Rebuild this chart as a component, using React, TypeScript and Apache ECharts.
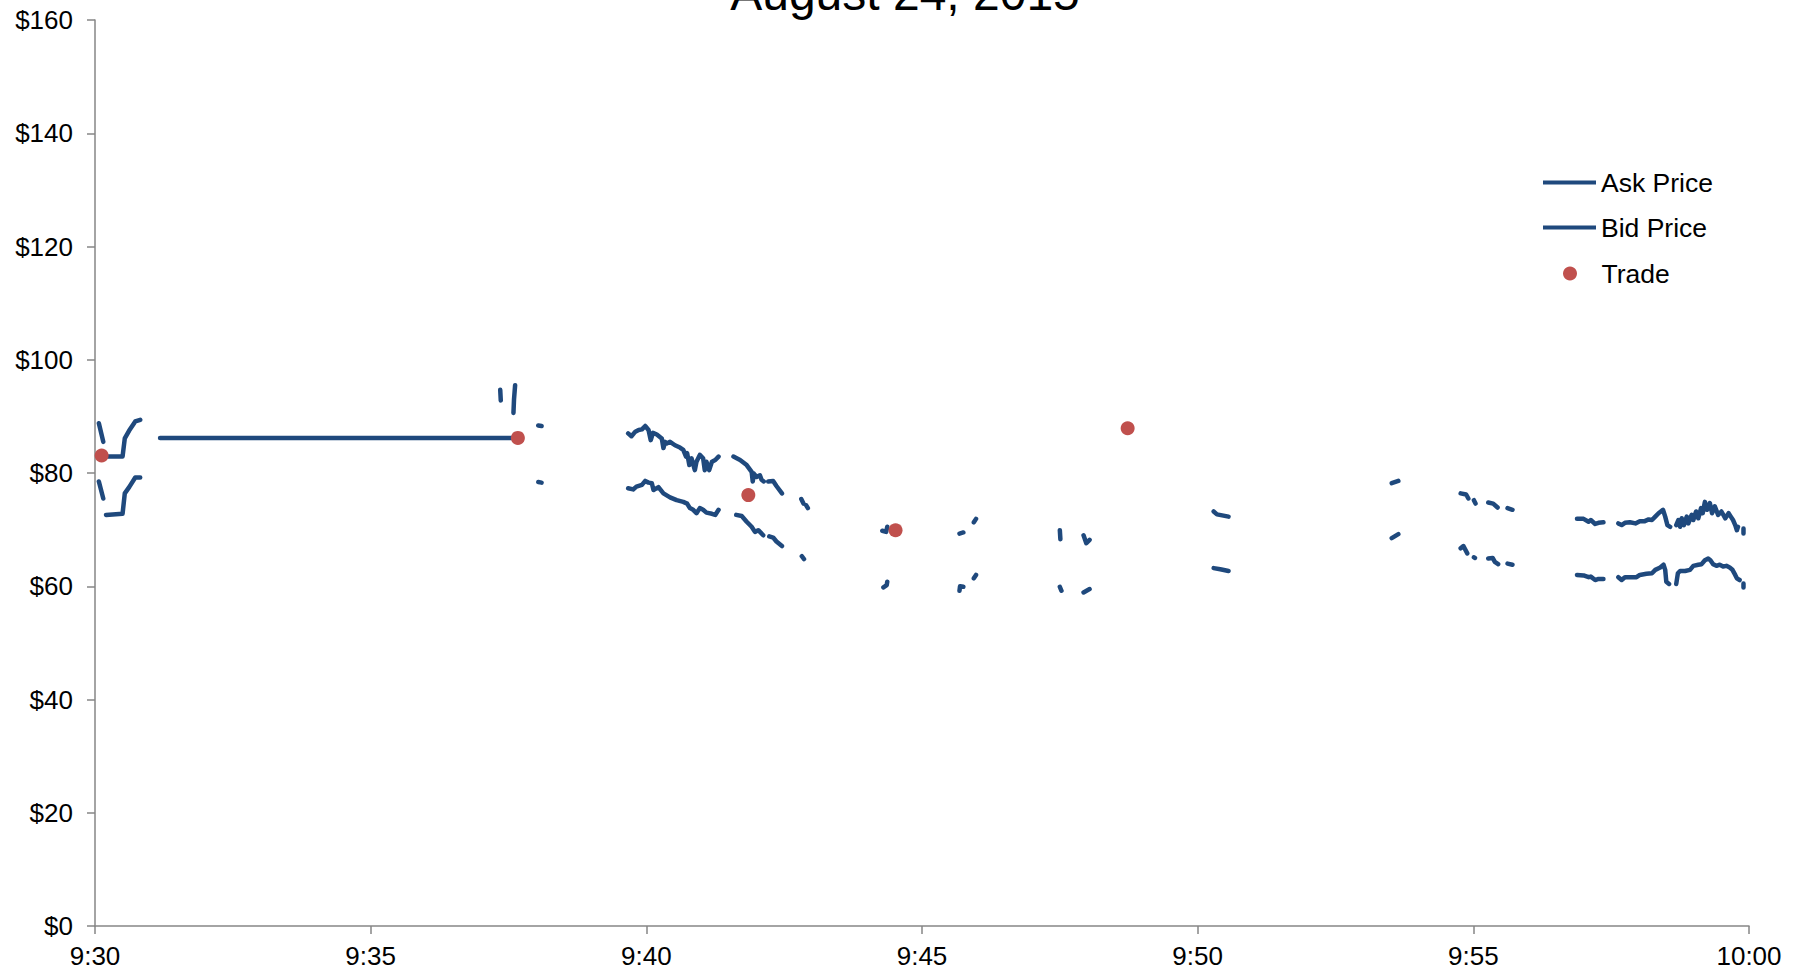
import React, { useEffect, useRef } from "react";
import * as echarts from "echarts";

// x values: minutes after 9:30; y values: price in $
const askSegments: number[][][] = [
  [[0.07, 88.8], [0.15, 85.5]],
  [[0.12, 82.9], [0.5, 82.9], [0.54, 86.1], [0.62, 87.5], [0.73, 89.1], [0.82, 89.4]],
  [[1.18, 86.2], [7.59, 86.2]],
  [[7.35, 94.7], [7.36, 92.8]],
  [[7.62, 95.5], [7.6, 93.0], [7.59, 90.6]],
  [[8.04, 88.4], [8.1, 88.3]],
  [[9.67, 87.0], [9.73, 86.5], [9.8, 87.3], [9.86, 87.6], [9.92, 87.7], [9.98, 88.3], [10.04, 87.6], [10.08, 85.8], [10.12, 87.1], [10.19, 86.8], [10.28, 86.1], [10.31, 84.4], [10.34, 85.5], [10.37, 85.2], [10.43, 85.5], [10.52, 84.9], [10.61, 84.5], [10.67, 84.1], [10.72, 82.9], [10.74, 83.5], [10.78, 81.4], [10.82, 82.6], [10.88, 80.5], [10.91, 82.0], [10.97, 83.2], [11.03, 82.6], [11.06, 80.5], [11.09, 82.0], [11.14, 80.5], [11.19, 82.0], [11.25, 82.3], [11.31, 82.9]],
  [[11.58, 82.9], [11.7, 82.3], [11.82, 81.4], [11.91, 80.2], [11.93, 78.5], [11.95, 79.9], [12.0, 79.3], [12.06, 79.6], [12.09, 78.8], [12.13, 78.5]],
  [[12.21, 78.5], [12.3, 78.6], [12.36, 77.7], [12.46, 76.4]],
  [[12.81, 75.4], [12.85, 74.6]],
  [[12.9, 74.3], [12.93, 73.8]],
  [[14.28, 69.8], [14.35, 69.6], [14.37, 70.5]],
  [[15.68, 69.3], [15.75, 69.5]],
  [[15.94, 71.3], [15.98, 71.9]],
  [[17.5, 69.9], [17.51, 68.3]],
  [[17.93, 69.0], [17.98, 67.6], [18.04, 68.2]],
  [[20.29, 73.2], [20.35, 72.7], [20.56, 72.3]],
  [[23.52, 78.2], [23.64, 78.6]],
  [[24.77, 76.4], [24.87, 76.2], [24.91, 75.5]],
  [[25.01, 75.2], [25.04, 74.6]],
  [[25.27, 74.8], [25.36, 74.6], [25.44, 73.9]],
  [[25.62, 73.8], [25.71, 73.5]],
  [[26.88, 71.9], [27.0, 71.9], [27.09, 71.4], [27.13, 71.7], [27.21, 71.0], [27.27, 71.2], [27.36, 71.3]],
  [[27.63, 71.1], [27.69, 70.8], [27.75, 71.2], [27.84, 71.3], [27.94, 71.1], [28.02, 71.5], [28.11, 71.5], [28.18, 71.8], [28.24, 71.7], [28.3, 72.3], [28.36, 72.9], [28.44, 73.5], [28.48, 72.3], [28.52, 70.8], [28.57, 70.5]],
  [[28.68, 70.8], [28.72, 71.7], [28.75, 70.5], [28.78, 72.0], [28.82, 70.8], [28.87, 72.3], [28.9, 71.1], [28.96, 72.6], [28.99, 71.7], [29.04, 73.2], [29.08, 72.0], [29.13, 73.8], [29.16, 72.9], [29.2, 74.9], [29.24, 73.5], [29.29, 74.7], [29.33, 72.9], [29.38, 74.1], [29.44, 72.6], [29.5, 73.2], [29.57, 72.0], [29.63, 72.9], [29.67, 72.3], [29.71, 71.7], [29.75, 70.8], [29.78, 69.9], [29.8, 70.5]],
  [[29.9, 70.2], [29.9, 69.3]],
];

const bidSegments: number[][][] = [
  [[0.07, 78.5], [0.15, 75.5]],
  [[0.2, 72.6], [0.5, 72.8], [0.54, 76.4], [0.62, 77.5], [0.73, 79.2], [0.82, 79.2]],
  [[8.04, 78.4], [8.1, 78.3]],
  [[9.67, 77.3], [9.76, 77.1], [9.82, 77.6], [9.92, 77.9], [9.98, 78.6], [10.04, 78.3], [10.1, 78.2], [10.13, 77.0], [10.22, 77.5], [10.31, 76.4], [10.43, 75.7], [10.55, 75.2], [10.67, 74.9], [10.74, 74.6], [10.79, 73.8], [10.85, 73.5], [10.91, 72.9], [10.97, 73.8], [11.03, 73.5], [11.09, 73.0], [11.19, 72.8], [11.25, 72.6], [11.31, 73.5]],
  [[11.63, 72.6], [11.73, 72.4], [11.82, 71.4], [11.91, 70.5], [11.97, 69.6], [12.03, 69.9], [12.12, 69.0]],
  [[12.23, 68.8], [12.3, 68.6], [12.36, 67.9], [12.46, 67.1]],
  [[12.82, 65.3], [12.86, 64.8]],
  [[14.3, 59.8], [14.36, 60.2], [14.37, 60.8]],
  [[15.68, 59.2], [15.69, 60.0], [15.75, 59.9]],
  [[15.94, 61.4], [15.98, 62.0]],
  [[17.5, 59.9], [17.53, 59.2]],
  [[17.93, 58.9], [18.04, 59.5]],
  [[20.29, 63.2], [20.41, 63.0], [20.56, 62.7]],
  [[23.52, 68.5], [23.64, 69.2]],
  [[24.77, 66.7], [24.82, 67.1], [24.89, 65.8]],
  [[25.01, 65.1], [25.03, 65.0]],
  [[25.27, 64.9], [25.35, 65.0], [25.39, 64.3], [25.45, 63.9]],
  [[25.62, 64.0], [25.71, 63.8]],
  [[26.88, 62.0], [27.0, 61.9], [27.09, 61.6], [27.13, 61.7], [27.21, 61.1], [27.27, 61.3], [27.36, 61.3]],
  [[27.63, 61.6], [27.69, 61.1], [27.75, 61.6], [27.84, 61.6], [27.96, 61.6], [28.02, 62.0], [28.14, 62.2], [28.24, 62.3], [28.3, 62.9], [28.39, 63.3], [28.45, 63.8], [28.48, 62.9], [28.5, 60.8], [28.55, 60.4]],
  [[28.68, 60.4], [28.71, 62.3], [28.75, 62.7], [28.84, 62.7], [28.93, 62.9], [28.99, 63.6], [29.08, 63.8], [29.14, 63.9], [29.2, 64.6], [29.26, 64.9], [29.3, 64.6], [29.35, 63.9], [29.41, 63.6], [29.47, 63.8], [29.53, 63.5], [29.59, 63.6], [29.65, 63.3], [29.7, 62.9], [29.75, 62.0], [29.78, 61.4], [29.83, 61.1]],
  [[29.9, 60.5], [29.9, 59.8]],
];

const tradeMinutes: number[] = [0.12, 7.67, 11.85, 14.52, 18.73];
const tradePrices: number[] = [83.1, 86.2, 76.1, 69.9, 87.9];

const xTickMinutes: number[] = [0, 5, 10, 15, 20, 25, 30];
const titleText = "August 24, 2015";
const seriesNames = ["Ask Price", "Bid Price", "Trade"];

const FONT = "'Liberation Sans', Arial, sans-serif";
const BLUE = "#1F497D";
const RED = "#C0504D";

function joinSegments(segs: number[][][]): any[] {
  const out: any[] = [];
  segs.forEach((seg, i) => {
    seg.forEach((p) => out.push([p[0], p[1]]));
    if (i < segs.length - 1) out.push([seg[seg.length - 1][0], "-"]);
  });
  return out;
}

function fmtTime(v: number): string {
  const total = 9 * 60 + 30 + Math.round(v);
  const h = Math.floor(total / 60);
  const m = total % 60;
  return `${h}:${m < 10 ? "0" + m : m}`;
}

export default function App() {
  const ref = useRef<HTMLDivElement>(null);
  useEffect(() => {
    if (!ref.current) return;
    const chart = echarts.init(ref.current, null, { renderer: "svg" });
    const lineCommon = {
      type: "line",
      symbol: "none",
      showSymbol: false,
      connectNulls: false,
      lineStyle: { color: BLUE, width: 4.5, cap: "round", join: "round" },
      itemStyle: { color: BLUE },
      z: 2,
    };
    const legendText = { fontSize: 26.5, lineHeight: 24, color: "#000", fontFamily: FONT };
    chart.setOption({
      animation: false,
      backgroundColor: "#ffffff",
      textStyle: { fontFamily: FONT },
      grid: { left: 95, right: 54, top: 20, bottom: 48, containLabel: false },
      graphic: [
        {
          type: "text",
          x: 905,
          y: -7,
          style: {
            text: titleText,
            fontSize: 48,
            fontFamily: FONT,
            fill: "#000",
            align: "center",
            verticalAlign: "middle",
          },
        },
      ],
      legend: [
        {
          orient: "vertical",
          left: 1538,
          top: 164,
          itemWidth: 53,
          itemHeight: 4,
          itemGap: 18,
          data: [
            { name: seriesNames[0], icon: "path://M0,0H53V4H0Z" },
            { name: seriesNames[1], icon: "path://M0,0H53V4H0Z" },
          ],
          textStyle: legendText,
        },
        {
          orient: "vertical",
          left: 1558,
          top: 255,
          itemWidth: 53,
          itemHeight: 14,
          data: [seriesNames[2]],
          textStyle: legendText,
        },
      ],
      xAxis: {
        type: "value",
        min: 0,
        max: 30,
        interval: 5,
        axisLine: { lineStyle: { color: "#868686", width: 1.5 } },
        axisTick: { show: true, length: 8, lineStyle: { color: "#868686", width: 1.5 } },
        splitLine: { show: false },
        axisLabel: {
          fontSize: 26,
          color: "#000",
          margin: 17,
          fontFamily: FONT,
          formatter: (v: number) => (xTickMinutes.includes(v) ? fmtTime(v) : ""),
        },
      },
      yAxis: {
        type: "value",
        min: 0,
        max: 160,
        interval: 20,
        axisLine: { show: true, lineStyle: { color: "#868686", width: 1.5 } },
        axisTick: { show: true, length: 8, lineStyle: { color: "#868686", width: 1.5 } },
        splitLine: { show: false },
        axisLabel: {
          fontSize: 26,
          color: "#000",
          margin: 22,
          fontFamily: FONT,
          formatter: (v: number) => "$" + v,
        },
      },
      series: [
        { ...lineCommon, name: seriesNames[0], data: joinSegments(askSegments) },
        { ...lineCommon, name: seriesNames[1], data: joinSegments(bidSegments) },
        {
          name: seriesNames[2],
          type: "scatter",
          symbol: "circle",
          symbolSize: 14,
          itemStyle: { color: RED, opacity: 1 },
          data: tradeMinutes.map((m, i) => [m, tradePrices[i]]),
          z: 3,
        },
      ],
    });
    return () => chart.dispose();
  }, []);
  return (
    <div
      ref={ref}
      style={{ position: "fixed", left: 0, top: 0, width: 1803, height: 974 }}
    />
  );
}
